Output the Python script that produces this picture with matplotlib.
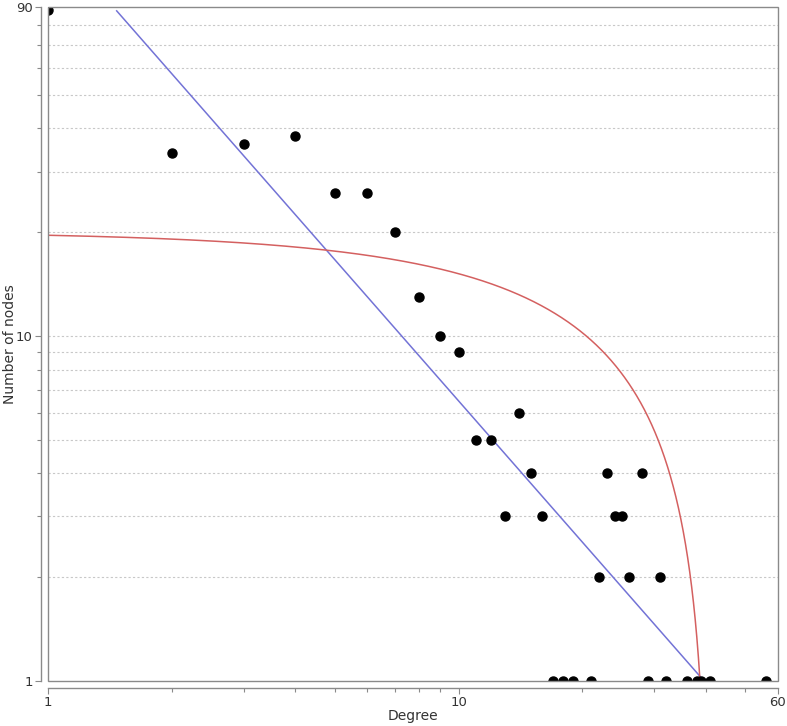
import numpy as np
import matplotlib
matplotlib.use("Agg")
import matplotlib.pyplot as plt
from matplotlib.patches import Rectangle
from matplotlib.ticker import FixedLocator, NullFormatter

# degree distribution
degree = [1, 2, 3, 4, 5, 6, 7, 8, 9, 10, 11, 12, 13, 14, 15, 16, 17, 18, 19,
          21, 22, 23, 24, 25, 26, 28, 29, 31, 32, 36, 38, 39, 41, 56]
nodes = [88, 34, 36, 38, 26, 26, 20, 13, 10, 9, 5, 5, 3, 6, 4, 3, 1, 1, 1,
         1, 2, 4, 3, 3, 2, 4, 1, 2, 1, 1, 1, 1, 1, 1]

# fitted models
pl_coef, pl_exp = 148.0, -1.358      # power law  y = c * x^k
lin_a, lin_b = 20.1, -0.493          # linear     y = a + b*x

x_ticks = [1, 10, 60]
y_ticks = [1, 10, 90]
x_minor = [2, 3, 4, 5, 6, 7, 8, 9, 20, 30, 40, 50]
y_minor = [2, 3, 4, 5, 6, 7, 8, 9, 20, 30, 40, 50, 60, 70, 80]

fig = plt.figure(figsize=(7.87, 7.26), dpi=100)
ax = fig.add_axes([48 / 787, 45 / 726, 730 / 787, 674 / 726])
ax.set_xscale("log")
ax.set_yscale("log")
ax.set_xlim(1, 60)
ax.set_ylim(1, 90)

# dashed horizontal grid
for v in y_minor + [10]:
    ax.axhline(v, color="#c8c8c8", lw=0.8, ls=(0, (2, 2)), zorder=0)

xs = np.logspace(np.log10(1.47), np.log10(60), 400)
ax.plot(xs, pl_coef * xs ** pl_exp, color="#7373d6", lw=1.1, zorder=2)
xl = np.linspace(1, (1 - lin_a) / lin_b + 0.3, 2000)
yl = lin_a + lin_b * xl
ax.plot(xl[yl > 0], yl[yl > 0], color="#d46060", lw=1.1, zorder=2)

ax.plot(degree, nodes, "o", color="black", ms=6.5, zorder=3, clip_on=True)

# frame plus offset axis lines
ax.add_patch(Rectangle((0, 0), 1, 1, transform=ax.transAxes, fill=False,
                       ec="#8a8a8a", lw=1.0, zorder=4, clip_on=False))
for s in ["top", "right"]:
    ax.spines[s].set_visible(False)
for s in ["left", "bottom"]:
    ax.spines[s].set_position(("outward", 5))
    ax.spines[s].set_color("#8a8a8a")
    ax.spines[s].set_linewidth(1.0)

ax.xaxis.set_major_locator(FixedLocator(x_ticks))
ax.xaxis.set_minor_locator(FixedLocator(x_minor))
ax.yaxis.set_major_locator(FixedLocator(y_ticks))
ax.yaxis.set_minor_locator(FixedLocator(y_minor))
ax.set_xticklabels([str(v) for v in x_ticks])
ax.set_yticklabels([str(v) for v in y_ticks])
ax.xaxis.set_minor_formatter(NullFormatter())
ax.yaxis.set_minor_formatter(NullFormatter())
ax.tick_params(which="both", direction="out", color="#8a8a8a", width=0.8)
ax.tick_params(which="major", length=4, labelsize=9.5, labelcolor="#333333", pad=2)
ax.tick_params(which="minor", length=3)

ax.set_xlabel("Degree", fontsize=10, color="#333333", va="center")
ax.set_ylabel("Number of nodes", fontsize=10, color="#333333", va="center")
ax.xaxis.set_label_coords(0.5, -0.052)
ax.yaxis.set_label_coords(-0.052, 0.5)

fig.savefig("out.png", dpi=100)
